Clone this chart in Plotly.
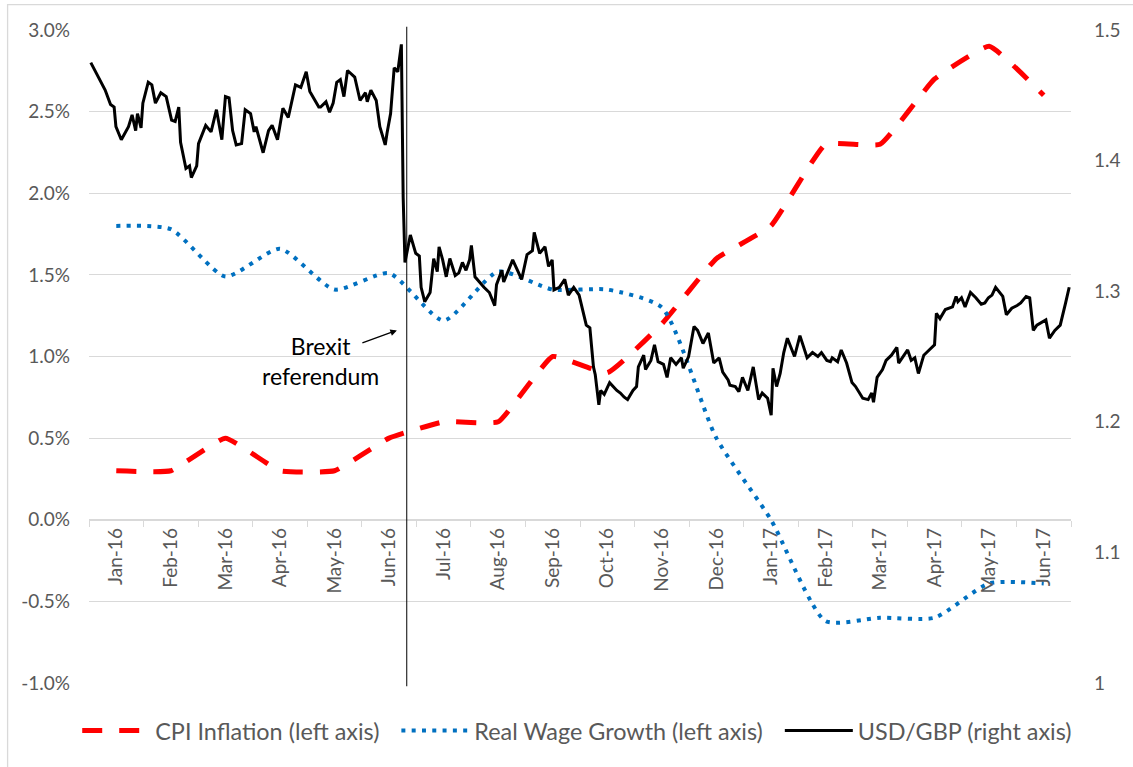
import plotly.graph_objects as go

# ---------------- data ----------------
months = ["Jan-16", "Feb-16", "Mar-16", "Apr-16", "May-16", "Jun-16",
          "Jul-16", "Aug-16", "Sep-16", "Oct-16", "Nov-16", "Dec-16",
          "Jan-17", "Feb-17", "Mar-17", "Apr-17", "May-17", "Jun-17"]

cpi_inflation = [0.3, 0.3, 0.5, 0.3, 0.3, 0.5, 0.6, 0.6, 1.0, 0.9, 1.2, 1.6,
                 1.8, 2.3, 2.3, 2.7, 2.9, 2.6]

real_wage_growth = [1.80, 1.78, 1.49, 1.66, 1.41, 1.51, 1.22, 1.52, 1.41, 1.41,
                    1.30, 0.50, 0.00, -0.62, -0.60, -0.60, -0.39, -0.39]

fx_dates = [
    "2016-01-02", "2016-01-07", "2016-01-10", "2016-01-13", "2016-01-15", "2016-01-16",
    "2016-01-19", "2016-01-23", "2016-01-25", "2016-01-27", "2016-01-28", "2016-01-30",
    "2016-01-31", "2016-02-03", "2016-02-05", "2016-02-07", "2016-02-10", "2016-02-13",
    "2016-02-16", "2016-02-18", "2016-02-20", "2016-02-21", "2016-02-24", "2016-02-26",
    "2016-02-27", "2016-03-01", "2016-03-02", "2016-03-06", "2016-03-09", "2016-03-12",
    "2016-03-15", "2016-03-17", "2016-03-19", "2016-03-21", "2016-03-23", "2016-03-26",
    "2016-03-28", "2016-03-31", "2016-04-02", "2016-04-03", "2016-04-05", "2016-04-07",
    "2016-04-10", "2016-04-12", "2016-04-15", "2016-04-18", "2016-04-21", "2016-04-25",
    "2016-04-28", "2016-04-29", "2016-05-01", "2016-05-03", "2016-05-06", "2016-05-08",
    "2016-05-09", "2016-05-12", "2016-05-14", "2016-05-16", "2016-05-18", "2016-05-20",
    "2016-05-22", "2016-05-24", "2016-05-28", "2016-05-31", "2016-06-03", "2016-06-04",
    "2016-06-06", "2016-06-09", "2016-06-11", "2016-06-14", "2016-06-15", "2016-06-17",
    "2016-06-19", "2016-06-21", "2016-06-23", "2016-06-24", "2016-06-25", "2016-06-28",
    "2016-07-01", "2016-07-03", "2016-07-04", "2016-07-06", "2016-07-09", "2016-07-11",
    "2016-07-13", "2016-07-14", "2016-07-16", "2016-07-18", "2016-07-20", "2016-07-23",
    "2016-07-25", "2016-07-27", "2016-07-29", "2016-07-31", "2016-08-01", "2016-08-03",
    "2016-08-08", "2016-08-11", "2016-08-14", "2016-08-15", "2016-08-18", "2016-08-19",
    "2016-08-24", "2016-08-29", "2016-09-01", "2016-09-04", "2016-09-05", "2016-09-08",
    "2016-09-11", "2016-09-13", "2016-09-15", "2016-09-16", "2016-09-19", "2016-09-22",
    "2016-09-24", "2016-09-27", "2016-09-30", "2016-10-02", "2016-10-04", "2016-10-06",
    "2016-10-08", "2016-10-09", "2016-10-11", "2016-10-12", "2016-10-14", "2016-10-17",
    "2016-10-21", "2016-10-23", "2016-10-25", "2016-10-27", "2016-10-30", "2016-11-01",
    "2016-11-02", "2016-11-05", "2016-11-06", "2016-11-09", "2016-11-11", "2016-11-13",
    "2016-11-16", "2016-11-18", "2016-11-20", "2016-11-23", "2016-11-26", "2016-11-27",
    "2016-11-30", "2016-12-03", "2016-12-05", "2016-12-08", "2016-12-11", "2016-12-14",
    "2016-12-17", "2016-12-19", "2016-12-22", "2016-12-23", "2016-12-26", "2016-12-28",
    "2016-12-30", "2017-01-02", "2017-01-05", "2017-01-08", "2017-01-10", "2017-01-13",
    "2017-01-15", "2017-01-16", "2017-01-18", "2017-01-20", "2017-01-22", "2017-01-24",
    "2017-01-28", "2017-01-31", "2017-02-04", "2017-02-07", "2017-02-10", "2017-02-12",
    "2017-02-15", "2017-02-17", "2017-02-18", "2017-02-21", "2017-02-23", "2017-02-26",
    "2017-03-01", "2017-03-03", "2017-03-07", "2017-03-10", "2017-03-12", "2017-03-13",
    "2017-03-15", "2017-03-18", "2017-03-20", "2017-03-23", "2017-03-26", "2017-03-27",
    "2017-03-29", "2017-04-01", "2017-04-03", "2017-04-05", "2017-04-07", "2017-04-10",
    "2017-04-13", "2017-04-16", "2017-04-17", "2017-04-19", "2017-04-22", "2017-04-26",
    "2017-04-28", "2017-04-29", "2017-05-01", "2017-05-03", "2017-05-06", "2017-05-09",
    "2017-05-12", "2017-05-14", "2017-05-16", "2017-05-18", "2017-05-20", "2017-05-22",
    "2017-05-24", "2017-05-26", "2017-05-29", "2017-06-01", "2017-06-03", "2017-06-06",
    "2017-06-08", "2017-06-10", "2017-06-12", "2017-06-17", "2017-06-19", "2017-06-22",
    "2017-06-25", "2017-06-28", "2017-06-30",
]

usd_gbp = [
    1.475, 1.462, 1.454, 1.443, 1.441, 1.426,
    1.416, 1.426, 1.435, 1.423, 1.436, 1.425,
    1.444, 1.460, 1.458, 1.444, 1.452, 1.449,
    1.431, 1.430, 1.441, 1.414, 1.394, 1.396,
    1.387, 1.396, 1.413, 1.427, 1.422, 1.439,
    1.416, 1.449, 1.448, 1.423, 1.412, 1.413,
    1.439, 1.436, 1.422, 1.426, 1.416, 1.406,
    1.423, 1.427, 1.416, 1.440, 1.433, 1.458,
    1.456, 1.460, 1.468, 1.453, 1.446, 1.441,
    1.441, 1.445, 1.437, 1.444, 1.460, 1.462,
    1.449, 1.469, 1.464, 1.446, 1.452, 1.445,
    1.454, 1.446, 1.426, 1.412, 1.421, 1.436,
    1.471, 1.468, 1.489, 1.372, 1.322, 1.343,
    1.329, 1.327, 1.303, 1.292, 1.299, 1.325,
    1.315, 1.334, 1.324, 1.311, 1.325, 1.312,
    1.314, 1.322, 1.316, 1.324, 1.335, 1.311,
    1.303, 1.299, 1.289, 1.305, 1.316, 1.307,
    1.324, 1.309, 1.328, 1.331, 1.345, 1.329,
    1.334, 1.319, 1.324, 1.301, 1.303, 1.309,
    1.297, 1.303, 1.297, 1.286, 1.274, 1.272,
    1.242, 1.236, 1.213, 1.224, 1.221, 1.230,
    1.224, 1.222, 1.219, 1.217, 1.224, 1.227,
    1.242, 1.251, 1.240, 1.247, 1.259, 1.246,
    1.244, 1.234, 1.249, 1.244, 1.249, 1.241,
    1.250, 1.273, 1.270, 1.260, 1.268, 1.245,
    1.249, 1.238, 1.232, 1.228, 1.227, 1.223,
    1.234, 1.224, 1.242, 1.217, 1.222, 1.218,
    1.205, 1.241, 1.227, 1.237, 1.253, 1.264,
    1.250, 1.266, 1.249, 1.253, 1.250, 1.253,
    1.247, 1.246, 1.249, 1.246, 1.255, 1.245,
    1.230, 1.227, 1.218, 1.217, 1.222, 1.215,
    1.234, 1.240, 1.247, 1.251, 1.257, 1.245,
    1.249, 1.255, 1.247, 1.249, 1.237, 1.251,
    1.255, 1.259, 1.283, 1.279, 1.286, 1.288,
    1.296, 1.292, 1.295, 1.288, 1.299, 1.295,
    1.290, 1.291, 1.295, 1.297, 1.303, 1.299,
    1.296, 1.282, 1.287, 1.289, 1.291, 1.296,
    1.295, 1.270, 1.274, 1.278, 1.264, 1.270,
    1.274, 1.291, 1.303,
]

left_ticks = [-1.0, -0.5, 0.0, 0.5, 1.0, 1.5, 2.0, 2.5, 3.0]
left_ticktext = ["-1.0%", "-0.5%", "0.0%", "0.5%", "1.0%", "1.5%", "2.0%", "2.5%", "3.0%"]
right_ticks = [1.0, 1.1, 1.2, 1.3, 1.4, 1.5]
right_ticktext = ["1", "1.1", "1.2", "1.3", "1.4", "1.5"]

brexit_date = "2016-06-26"

# ---------------- styling ----------------
FONT = "Lato"
GRID = "#D9D9D9"
TXT = "#595959"
GAP = "\u00a0\u00a0"   # extra spacing between legend entries

fig = go.Figure()

fig.add_trace(go.Scatter(
    x=months, y=cpi_inflation, name="CPI Inflation (left axis)" + GAP,
    mode="lines", line=dict(color="#FF0000", width=5, dash="20px,17px",
                            shape="spline", smoothing=0.35),
    xaxis="x", yaxis="y"))

fig.add_trace(go.Scatter(
    x=months, y=real_wage_growth, name="Real Wage Growth (left axis)" + GAP,
    mode="lines", line=dict(color="#0070C0", width=4, dash="4px,6.3px",
                            shape="spline", smoothing=0.6),
    xaxis="x", yaxis="y"))

fig.add_trace(go.Scatter(
    x=fx_dates, y=usd_gbp, name="USD/GBP (right axis)",
    mode="lines", line=dict(color="#000000", width=3),
    xaxis="x2", yaxis="y2"))

fig.update_layout(
    width=1133, height=767,
    margin=dict(l=89, r=55, t=30, b=84),
    paper_bgcolor="white", plot_bgcolor="white",
    font=dict(family=FONT, size=19, color=TXT),
    showlegend=True,
    legend=dict(orientation="h", x=-0.012, xanchor="left", y=-0.073,
                yanchor="middle", font=dict(family=FONT, size=23.4, color=TXT),
                bgcolor="rgba(0,0,0,0)", itemwidth=68),
    xaxis=dict(type="category", categoryorder="array", categoryarray=months,
               range=[-0.5, 17.5], anchor="free", position=0.25,
               tickson="boundaries", ticks="outside", ticklen=6, tickcolor=GRID,
               tickwidth=1.3, showline=True, linecolor=GRID, linewidth=1.5,
               showgrid=False, tickangle=-90,
               tickfont=dict(family=FONT, size=19, color=TXT)),
    xaxis2=dict(type="date", overlaying="x", range=["2016-01-01", "2017-07-01"],
                visible=False, anchor="y2"),
    yaxis=dict(range=[-1.0, 3.0], tickvals=left_ticks, ticktext=left_ticktext,
               showgrid=True, gridcolor=GRID, gridwidth=1.3,
               zeroline=False, showline=False, ticks="",
               ticklabelstandoff=18,
               tickfont=dict(family=FONT, size=19, color=TXT)),
    yaxis2=dict(range=[1.0, 1.5], tickvals=right_ticks, ticktext=right_ticktext,
                overlaying="y", side="right", showgrid=False, zeroline=False,
                showline=False, ticks="", ticklabelstandoff=22,
                tickfont=dict(family=FONT, size=19, color=TXT)),
)

# Brexit referendum marker line
fig.add_shape(type="line", xref="x2", yref="paper", x0=brexit_date, x1=brexit_date,
              y0=-0.005, y1=1.005, line=dict(color="black", width=1))

# chart border
fig.add_shape(type="rect", xref="paper", yref="paper",
              x0=-0.0829, x1=1.07, y0=-0.15, y1=1.039,
              line=dict(color=GRID, width=1.3), layer="below")

# annotation text and arrow
fig.add_annotation(xref="x2", yref="y", x="2016-05-09", y=0.97,
                   text="Brexit<br>referendum", showarrow=False,
                   font=dict(family=FONT, size=23, color="black"), align="center")
fig.add_annotation(xref="x2", yref="y", x="2016-06-20T12:00", y=1.16,
                   ax=-36, ay=13, axref="pixel", ayref="pixel", text="",
                   showarrow=True, arrowhead=2, arrowsize=1, arrowwidth=1.3,
                   arrowcolor="black")

fig.write_html("out.html", config={"displayModeBar": False},
               post_script="document.body.style.margin='0';")
